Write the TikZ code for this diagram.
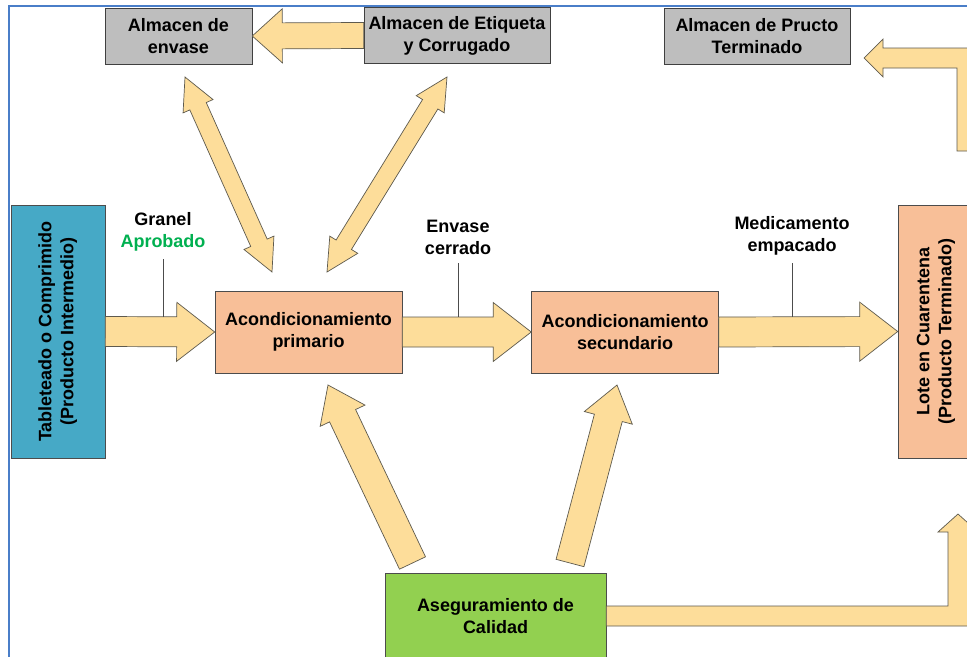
\documentclass[tikz,border=0pt]{standalone}
\usepackage{fontspec}
\setmainfont{Liberation Sans}
\usetikzlibrary{calc}
\usetikzlibrary{shapes}

\definecolor{arrowfill}{HTML}{FDDD9A}
\definecolor{arrowline}{HTML}{5E5A4E}
\definecolor{storegray}{HTML}{BEBEBE}
\definecolor{peach}{HTML}{F8BF98}
\definecolor{tealblue}{HTML}{46A9C6}
\definecolor{qagreen}{HTML}{92D050}
\definecolor{okgreen}{HTML}{00B050}
\definecolor{frameblue}{HTML}{4A7EC8}

% block arrow: start, tip, half shaft, half head, head length
\newcommand{\blockarrow}[5]{%
  \coordinate (hb) at ($(#2)!#5!(#1)$);
  \path[fatarrow] ($(#1)!#3!90:(#2)$) -- ($(hb)!#3!-90:(#1)$) -- ($(hb)!#4!-90:(#1)$) -- (#2)
    -- ($(hb)!#4!90:(#1)$) -- ($(hb)!#3!90:(#1)$) -- ($(#1)!#3!-90:(#2)$) -- cycle;
}
% same with a head on both ends
\newcommand{\dblarrow}[5]{%
  \coordinate (ha) at ($(#1)!#5!(#2)$);
  \coordinate (hb) at ($(#2)!#5!(#1)$);
  \path[fatarrow] (#1) -- ($(ha)!#4!-90:(#2)$) -- ($(ha)!#3!-90:(#2)$) -- ($(hb)!#3!90:(#1)$)
    -- ($(hb)!#4!90:(#1)$) -- (#2) -- ($(hb)!#4!-90:(#1)$) -- ($(hb)!#3!-90:(#1)$)
    -- ($(ha)!#3!90:(#2)$) -- ($(ha)!#4!90:(#2)$) -- cycle;
}

\begin{document}
\begin{tikzpicture}

\tikzstyle{boxfont}=[font=\bfseries\fontsize{12.8}{15.5}\selectfont]
\tikzstyle{store}=[rectangle, draw=black!75, fill=storegray, minimum height=1.4cm, inner sep=1pt, align=center, boxfont]
\tikzstyle{process}=[rectangle, draw=black!70, fill=peach, minimum width=4.675cm, minimum height=2.05cm, align=center, boxfont]
\tikzstyle{side}=[rectangle, draw=black!70, minimum width=2.35cm, minimum height=6.325cm, inner sep=0pt, boxfont]
\tikzstyle{quality}=[rectangle, draw=black!70, fill=qagreen, minimum width=5.525cm, minimum height=2.125cm, align=center, boxfont]
\tikzstyle{flowtext}=[align=center, inner sep=2pt, boxfont]

\tikzstyle{fatarrow}=[fill=arrowfill, draw=arrowline, line width=0.5pt, line join=miter]
\tikzstyle{tick}=[draw=black!70, line width=0.6pt]
\tikzstyle{frame}=[draw=frameblue, line width=2.1pt]


\useasboundingbox (0,0) rectangle (24.175,-16.425);
\clip (0,0) rectangle (24.175,-16.425);
\fill[white] (0,0) rectangle (24.175,-16.425);

\draw[frame] (0.225,-16.6) -- (0.225,-0.15) -- (24.4,-0.15);


\node[store, minimum width=3.675cm] (env) at (4.4625,-0.9) {Almacen de\\envase};
\node[store, minimum width=4.65cm] (eti) at (11.425,-0.8875) {Almacen de Etiqueta\\y Corrugado};
\node[store, minimum width=4.65cm] (ter) at (18.925,-0.9) {Almacen de Pructo\\Terminado};

\node[side, fill=tealblue] (tab) at (1.45,-8.2875)
  {\rotatebox{90}{\begin{tabular}{@{}c@{}}Tableteado o Comprimido\\(Producto Intermedio)\end{tabular}}};
\node[process] (prim) at (7.7125,-8.3) {Acondicionamiento\\primario};
\node[process] (sec) at (15.625,-8.3) {Acondicionamiento\\secundario};
\node[side, fill=peach, minimum width=1.9cm] (lote) at (23.4,-8.2875)
  {\rotatebox{90}{\begin{tabular}{@{}c@{}}Lote en Cuarentena\\(Producto Terminado)\end{tabular}}};

\node[quality] (qa) at (12.3875,-15.4) {Aseguramiento de\\Calidad};


\node[flowtext] (granel) at (4.075,-5.7875) {Granel\\\textcolor{okgreen}{Aprobado}};
\node[flowtext] (envc) at (11.45,-5.9375) {Envase\\cerrado};
\node[flowtext] (medic) at (19.8,-5.8875) {Medicamento\\empacado};


% main line
\blockarrow{tab.east}{prim.west}{0.375cm}{0.7375cm}{0.95cm}
\blockarrow{prim.east}{sec.west}{0.375cm}{0.7375cm}{0.95cm}
\blockarrow{sec.east}{lote.west}{0.375cm}{0.7375cm}{0.95cm}

\coordinate (shafttop) at (0,-7.925);
\draw[tick] ([yshift=-4pt]granel.south) -- (granel.south |- shafttop);
\draw[tick] ([yshift=-4pt]envc.south) -- (envc.south |- shafttop);
\draw[tick] ([yshift=-4pt]medic.south) -- (medic.south |- shafttop);

% stores
\blockarrow{eti.west}{env.east}{0.325cm}{0.675cm}{0.75cm}

\coordinate (envS) at (4.625,-1.925);
\coordinate (primNW) at (6.8,-6.8);
\coordinate (etiS) at (11.175,-1.925);
\coordinate (primNE) at (8.175,-6.8);
\dblarrow{envS}{primNW}{0.225cm}{0.41cm}{0.8cm}
\dblarrow{etiS}{primNE}{0.225cm}{0.41cm}{0.8cm}

% quality
\coordinate (qaL) at (10.3125,-14.075);
\coordinate (primS) at (8.2,-9.625);
\coordinate (qaR) at (14.25,-14.075);
\coordinate (secS) at (15.425,-9.625);
\blockarrow{qaL}{primS}{0.36cm}{0.62cm}{0.85cm}
\blockarrow{qaR}{secS}{0.36cm}{0.62cm}{0.85cm}

\path[fatarrow] ($(qa.east)+(0,0.25)$) -- (23.7,-15.15) -- (23.7,-13.3) -- (23.45,-13.3) -- (23.95,-12.85)
  -- (24.45,-13.3) -- (24.2,-13.3) -- (24.2,-15.65) -- ($(qa.east)+(0,-0.25)$) -- cycle;

\coordinate (terE) at (21.6,-1.45);
\path[fatarrow] (terE) -- (22.075,-0.975) -- (22.075,-1.2) -- (24.425,-1.2) -- (24.425,-3.775)
  -- (23.925,-3.775) -- (23.925,-1.7) -- (22.075,-1.7) -- (22.075,-1.925) -- cycle;

\end{tikzpicture}
\end{document}
